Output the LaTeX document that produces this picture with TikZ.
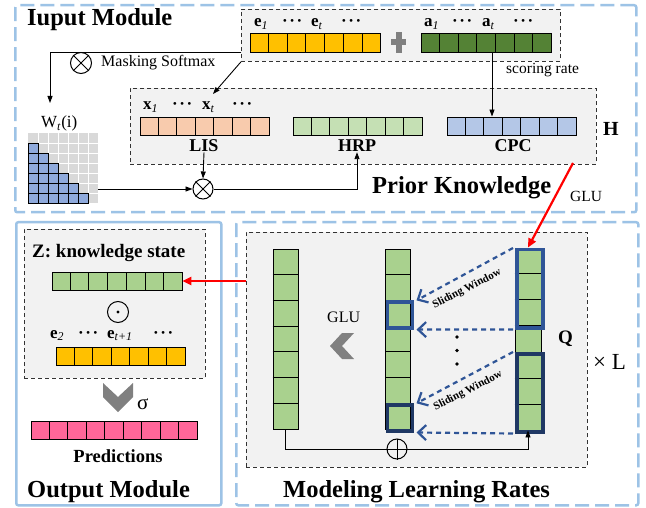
\documentclass[tikz,border=0pt]{standalone}
\usepackage{fontspec}
\setmainfont{Liberation Serif}
\usetikzlibrary{arrows.meta,calc}

\definecolor{panelblue}{HTML}{9DC3E6}
\definecolor{boxgray}{HTML}{F2F2F2}
\definecolor{eyellow}{HTML}{FFC000}
\definecolor{adark}{HTML}{548235}
\definecolor{lispeach}{HTML}{F8CBAD}
\definecolor{hrpgreen}{HTML}{C5E0B4}
\definecolor{cpcblue}{HTML}{B4C7E7}
\definecolor{zgreen}{HTML}{A9D18E}
\definecolor{predpink}{HTML}{FF6699}
\definecolor{winblue}{HTML}{2F5597}
\definecolor{winnavy}{HTML}{1F3864}
\definecolor{matblue}{HTML}{8FAADC}
\definecolor{matgray}{HTML}{D9D9D9}
\definecolor{chevgray}{HTML}{808080}

\newcommand{\fs}[1]{\fontsize{#1}{#1}\selectfont}
\newcommand{\vsub}[2]{\textbf{#1}\textsubscript{\textit{#2}}}
\newcommand{\cdt}{\textbf{·\kern1.5pt·\kern1.5pt·}}
% separators inside a cell row / column node: #1 node, #2 number of inner lines
\newcommand{\hcells}[2]{\foreach \ci in {1,...,#2}{\draw[line width=0.9pt] ($(#1.south west)!{\ci/(#2+1)}!(#1.south east)$) -- ($(#1.north west)!{\ci/(#2+1)}!(#1.north east)$);}}
\newcommand{\vcells}[2]{\foreach \ci in {1,...,#2}{\draw[line width=0.9pt] ($(#1.north west)!{\ci/(#2+1)}!(#1.south west)$) -- ($(#1.north east)!{\ci/(#2+1)}!(#1.south east)$);}}

\tikzset{
  panel/.style={draw=panelblue, line width=2.5pt, dash pattern=on 14pt off 6pt, rounded corners=2pt, inner sep=0, anchor=north west},
  solidpanel/.style={draw=panelblue, line width=2.5pt, rounded corners=2pt, inner sep=0, anchor=north west},
  graybox/.style={draw=black!80, fill=boxgray, line width=0.8pt, dash pattern=on 4pt off 3pt, inner sep=0, anchor=north west},
  cellrow/.style={draw=black, line width=0.9pt, inner sep=0, minimum height=19pt},
  link/.style={draw=black, line width=0.9pt, -{Triangle[length=7pt,width=5pt]}},
  redlink/.style={draw=red, line width=2.2pt, -{Triangle[length=9pt,width=8pt]}},
  slide/.style={draw=winblue, line width=2.2pt, dash pattern=on 5pt off 4pt, -{Straight Barb[length=8pt,width=15pt,line width=2.2pt]}},
  opcircle/.style={circle, draw, line width=1pt, minimum size=20pt, inner sep=0},
  winbox/.style={line width=3.5pt, inner sep=0, anchor=north west},
  txt/.style={inner sep=0, anchor=base west},
  ctxt/.style={inner sep=0, anchor=base},
}

\begin{document}
\begin{tikzpicture}[x=1pt,y=-1pt]
\useasboundingbox[fill=white] (0,0) rectangle (646,508);

% ---------- module frames ----------
\node[panel, minimum width=621pt, minimum height=207pt] (inmod) at (14,4) {};
\node[solidpanel, minimum width=205pt, minimum height=283pt] (outmod) at (15,221) {};
\node[panel, minimum width=402pt, minimum height=283pt] (mlrmod) at (235,221) {};

% ---------- grey working areas ----------
\node[graybox, minimum width=319pt, minimum height=52pt] (EA) at (241,9) {};
\node[graybox, minimum width=466pt, minimum height=76pt] (PK) at (130,88) {};
\node[graybox, minimum width=181pt, minimum height=149pt] (ZB) at (24,229) {};
\node[graybox, minimum width=341pt, minimum height=235pt] (MB) at (246,232) {};

% ---------- input module ----------
\node[txt, font=\fs{24.5}\bfseries] (tin) at (27,26) {Iuput Module};

\node[cellrow, fill=eyellow, minimum width=130.5pt] (E) at (315.3,42.5) {};
\hcells{E}{6}
\node[cellrow, fill=adark, minimum width=130pt] (A) at (486,42.5) {};
\hcells{A}{6}
\fill[chevgray] (391,39.5) rectangle (406,45.5);
\fill[chevgray] (395.5,32) rectangle (401.5,53);

\node[txt, font=\fs{17}] (e1) at (254,27) {\vsub{e}{1}};
\node[txt, font=\fs{17}] (ed1) at (282,27) {\cdt};
\node[txt, font=\fs{17}] (et) at (311,27) {\vsub{e}{t}};
\node[txt, font=\fs{17}] (ed2) at (341,27) {\cdt};
\node[txt, font=\fs{17}] (a1) at (424,27) {\vsub{a}{1}};
\node[txt, font=\fs{17}] (ad1) at (452,27) {\cdt};
\node[txt, font=\fs{17}] (at) at (482,27) {\vsub{a}{t}};
\node[txt, font=\fs{17}] (ad2) at (513,27) {\cdt};

% masking branch
\node[opcircle, minimum size=21pt] (ot1) at (81,63) {};
\draw[line width=1pt] (ot1.north west) -- (ot1.south east) (ot1.north east) -- (ot1.south west);
\node[txt, font=\fs{16}] (mask) at (101,67) {Masking Softmax};
\node[txt, font=\fs{17}] (wlab) at (41,128) {W\textsubscript{\textit{t}}(i)};
\coordinate (win) at (50,103);
\draw[link] (EA.west |- E.south) -| (win);

% attention weight matrix
\node[anchor=north west, minimum width=70pt, minimum height=70pt, inner sep=0, fill=matgray] (Wm) at (28,133) {};
\foreach \ci in {1,...,6}{
  \draw[white, line width=0.6pt] ({28+10*\ci},133) -- ({28+10*\ci},203);
  \draw[white, line width=0.6pt] (28,{133+10*\ci}) -- (98,{133+10*\ci});
}
\foreach \rr in {1,...,6}{
  \foreach \cc in {1,...,\rr}{
    \draw[fill=matblue, line width=0.8pt] ({18+10*\cc},{133+10*\rr}) rectangle ++(10,10);
  }
}

% prior knowledge
\node[txt, font=\fs{17}] (x1) at (143,110) {\vsub{x}{1}};
\node[txt, font=\fs{17}] (xd1) at (172,110) {\cdt};
\node[txt, font=\fs{17}] (xt) at (202,110) {\vsub{x}{t}};
\node[txt, font=\fs{17}] (xd2) at (232,110) {\cdt};
\coordinate (xin) at (213,94);
\draw[link] (EA.south west) -- (xin);

\node[cellrow, fill=lispeach, minimum width=129pt, minimum height=18pt] (LIS) at (204.5,126) {};
\hcells{LIS}{6}
\node[cellrow, fill=hrpgreen, minimum width=129pt, minimum height=18pt] (HRP) at (357.5,126) {};
\hcells{HRP}{6}
\node[cellrow, fill=cpcblue, minimum width=129pt, minimum height=18pt] (CPC) at (511.5,126) {};
\hcells{CPC}{6}

\node[ctxt, font=\fs{18}\bfseries] (lislab) at (204,152) {LIS};
\node[ctxt, font=\fs{18}\bfseries] (hrplab) at (357,152) {HRP};
\node[ctxt, font=\fs{18}\bfseries] (cpclab) at (513,152) {CPC};
\node[txt, font=\fs{20}\bfseries] (hlab) at (603,136) {H};
\node[txt, font=\fs{24.5}\bfseries] (tpk) at (372,194) {Prior Knowledge};
\node[txt, font=\fs{15.5}] (glu1) at (570,202) {GLU};

\draw[link] ([xshift=6pt]A.south) -- ([xshift=6pt]A.south |- CPC.north);
\node[txt, font=\fs{15.5}] (score) at (506,74) {scoring rate};

\node[opcircle] (ot2) at (203,189) {};
\draw[line width=1pt] (ot2.north west) -- (ot2.south east) (ot2.north east) -- (ot2.south west);
\draw[link] (Wm.east |- ot2.west) -- (ot2.west);
\draw[link] (lislab.south) -- (ot2.north);
\draw[link] (ot2.east) -| (hrplab.south);

% ---------- modeling learning rates ----------
\node[cellrow, fill=zgreen, minimum width=25pt, minimum height=180pt] (C1) at (285.5,339) {};
\vcells{C1}{6}
\node[cellrow, fill=zgreen, minimum width=25pt, minimum height=180pt] (C2) at (398,339) {};
\vcells{C2}{6}
\node[cellrow, fill=zgreen, minimum width=26pt, minimum height=182pt] (Q) at (528,339) {};
\vcells{Q}{6}

\node[winbox, draw=winblue, minimum width=25pt, minimum height=25.7pt] (MW1) at (385.5,300.4) {};
\node[winbox, draw=winnavy, minimum width=25pt, minimum height=25.7pt] (MW2) at (385.5,403.3) {};
\node[winbox, draw=winblue, minimum width=26pt, minimum height=78pt] (QW1) at (515,248) {};
\node[winbox, draw=winnavy, minimum width=26pt, minimum height=78pt] (QW2) at (515,352) {};

\draw[slide] ([xshift=-2pt]QW1.north west) -- ([xshift=2.5pt]MW1.north east);
\draw[slide] ([xshift=-2pt]QW1.south west) -- ([xshift=2.5pt]MW1.south east);
\draw[slide] ([xshift=-2pt]QW2.north west) -- ([xshift=2.5pt]MW2.north east);
\draw[slide] ([xshift=-2pt]QW2.south west) -- ([xshift=2.5pt]MW2.south east);

\node[rotate=27, inner sep=0, font=\fs{11}\bfseries] (sw1) at (467,289) {Sliding Window};
\node[rotate=27, inner sep=0, font=\fs{11}\bfseries] (sw2) at (468,391) {Sliding Window};
\foreach \yy in {337,350.5,364}{\fill (457,\yy) circle (1.8);}

\node[txt, font=\fs{16}] (glu2) at (327,323) {GLU};
\fill[chevgray] (354,333) -- (342,346) -- (354,359) -- (342,359) -- (330,346) -- (342,333) -- cycle;
\node[txt, font=\fs{19}\bfseries] (qlab) at (558,343) {Q};
\node[txt, font=\fs{23}] (times) at (593,369) {× L};

\node[opcircle] (op) at (397,449) {};
\draw[line width=1pt] (op.north) -- (op.south) (op.west) -- (op.east);
\draw[line width=0.9pt] (C1.south) |- (op.west);
\draw[link] (op.east) -| (Q.south);

\node[txt, font=\fs{24.5}\bfseries] (tmlr) at (283,497) {Modeling Learning Rates};

\coordinate (glusrc) at (573,163);
\draw[redlink] (glusrc) -- (Q.north);

% ---------- output module ----------
\node[txt, font=\fs{19}\bfseries] (zlab) at (32,258) {Z: knowledge state};
\node[cellrow, fill=zgreen, minimum width=130pt, minimum height=18pt] (Zarr) at (117,281) {};
\hcells{Zarr}{6}
\draw[redlink] (MB.west |- Zarr.east) -- (Zarr.east);

\node[opcircle, minimum size=21pt] (od) at (118,312) {};
\fill (od.center) circle (1.7);

\node[txt, font=\fs{17}] (e2) at (50,338) {\vsub{e}{2}};
\node[txt, font=\fs{17}] (e2d1) at (78,338) {\cdt};
\node[txt, font=\fs{17}] (etp) at (107,338) {\vsub{e}{t+1}};
\node[txt, font=\fs{17}] (e2d2) at (153,338) {\cdt};
\node[cellrow, fill=eyellow, minimum width=129pt, minimum height=18pt] (E2) at (120.5,356) {};
\hcells{E2}{6}

\fill[chevgray] (103,383) -- (118,397) -- (133,383) -- (133,397) -- (118,412) -- (103,397) -- cycle;
\node[txt, font=\fs{21}] (sig) at (137,409) {σ};

\node[cellrow, fill=predpink, minimum width=166pt, minimum height=18pt] (P) at (114,430) {};
\hcells{P}{8}
\node[ctxt, font=\fs{18.5}\bfseries] (plab) at (118,462) {Predictions};
\node[txt, font=\fs{24.5}\bfseries] (tout) at (27,497) {Output Module};
\end{tikzpicture}
\end{document}
